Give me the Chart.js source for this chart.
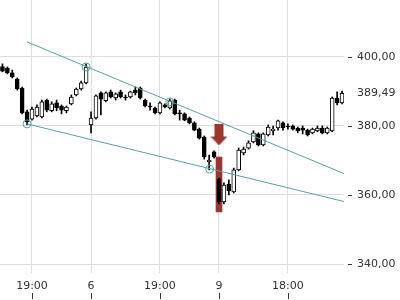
<!DOCTYPE html>
<html><head><meta charset="utf-8">
<script src="https://cdn.jsdelivr.net/npm/chart.js@4"></script>
<style>html,body{margin:0;padding:0;background:#fff}canvas{display:block}</style>
</head><body>
<canvas id="c" width="400" height="300"></canvas>
<script>
// ---- data (candle index 0..69) ----
const opens = [397.2,396.8,395.4,393.6,391.0,384.1,382.0,382.9,382.6,387.5, 384.4,386.7,385.8,384.4,386.4,389.0,390.7,392.5,380.3,382.3, 389.6,387.3,389.9,388.1,389.9,388.4,388.4,390.4,391.0,387.5, 385.8,385.2,383.8,386.1,385.2,387.5,383.8,383.5,382.3,380.9, 379.1,376.8,369.6,372.5,364.6,358.0,363.2,360.9,367.3,372.2, 373.6,375.4,377.7,374.5,377.4,378.6,379.4,380.9,380.0,380.0, 379.4,379.4,378.8,378.0,378.6,379.4,378.0,378.6,388.1,386.7];
const highs = [398.0,397.1,396.2,393.9,391.3,384.6,385.5,386.1,387.5,387.8, 387.0,387.5,386.1,385.8,389.0,391.0,393.0,398.0,384.1,389.0, 389.9,389.9,390.4,389.6,390.4,389.0,390.1,391.3,391.3,387.8, 386.7,385.5,387.0,386.4,387.8,387.8,384.6,383.8,382.6,381.2, 379.4,377.1,371.6,372.8,364.9,363.5,364.4,367.8,373.6,373.9, 375.7,378.6,378.0,378.0,380.3,380.0,381.7,381.2,380.6,380.3, 379.7,380.0,379.1,379.4,380.0,380.0,379.7,388.4,389.9,390.1];
const lows = [395.7,395.1,393.9,390.4,383.5,380.3,381.7,382.6,382.3,384.1, 384.1,384.4,383.5,383.8,386.1,388.7,390.4,392.2,378.0,382.0, 383.2,387.0,388.1,387.5,388.1,387.5,388.1,389.0,387.8,385.5, 384.6,383.5,383.5,385.2,384.9,383.2,381.7,381.5,380.6,378.6, 376.2,370.4,367.3,370.7,357.4,357.4,360.0,360.6,367.0,371.6, 373.3,375.1,374.2,374.2,377.1,377.4,378.8,378.8,379.1,378.8, 378.0,377.7,377.1,377.7,378.3,377.7,377.7,378.3,386.1,386.4];
const closes = [395.9,395.4,394.2,390.7,383.8,381.2,384.9,385.5,387.0,384.6, 386.4,385.2,384.6,385.5,388.4,390.7,392.5,397.1,382.3,388.7, 387.8,389.6,388.4,389.3,388.4,388.1,389.9,389.6,388.1,385.8, 385.5,383.8,386.7,385.5,387.3,383.5,383.5,381.7,380.9,378.8, 376.5,371.0,370.1,371.0,358.0,362.9,361.2,367.3,373.0,373.3, 375.1,378.0,374.5,377.7,379.7,379.1,381.5,379.4,379.7,379.1, 378.6,378.8,377.4,379.1,379.4,378.0,379.4,388.1,386.7,389.49];

const xTickIndex = [6, 18, 32, 44, 58];
const xTickLabels = ['19:00', '6', '19:00', '9', '18:00'];
const yTickValues = [340, 360, 380, 389.49, 400];
const lastPrice = 389.49;

// trend lines: [x, y] endpoints
const upperTrendX = [5, 69.4];
const upperTrendY = [404.35, 366.2];
const lowerTrendX = [5, 69.4];
const lowerTrendY = [380.6, 358.1];

// touch points
const touchX = [5, 17, 34, 42.1];
const touchY = [380.6, 397.1, 387.0, 367.5];

// signal candle
const signalIndex = 44;
const signalRange = [355.1, 371.0];
const arrowValue = 377.4;

// ---- build ----
const TEAL = '#5a9fa3';
const RED = '#993833';
const idx = opens.map((_, i) => i);
const bodyData = idx.map(i => ({x: i, y: [opens[i], closes[i]]}));
const wickData = idx.map(i => ({x: i, y: [lows[i], highs[i]]}));
const bodyColors = idx.map(i => closes[i] >= opens[i] ? '#ffffff' : '#000000');

const arrow = document.createElement('canvas');
arrow.width = 17; arrow.height = 21;
(function(){
  const g = arrow.getContext('2d');
  g.fillStyle = RED;
  g.beginPath();
  g.moveTo(4, 0); g.lineTo(13, 0); g.lineTo(13, 12); g.lineTo(17, 12);
  g.lineTo(8.5, 21); g.lineTo(0, 12); g.lineTo(4, 12); g.closePath();
  g.fill();
})();

const tickMarks = {
  id: 'tickMarks',
  afterDraw(chart) {
    const c = chart.ctx, xs = chart.scales.x, ys = chart.scales.y, a = chart.chartArea;
    c.save();
    c.strokeStyle = '#333';
    c.lineWidth = 1;
    c.beginPath();
    xTickIndex.forEach(v => {
      const px = Math.round(xs.getPixelForValue(v)) + 0.5;
      c.moveTo(px, a.bottom + 20); c.lineTo(px, a.bottom + 26);
    });
    yTickValues.forEach(v => {
      if (v === lastPrice) return;
      const py = Math.round(ys.getPixelForValue(v)) + 0.5;
      c.moveTo(a.right + 4, py); c.lineTo(a.right + 8, py);
    });
    c.stroke();
    c.restore();
  }
};

Chart.defaults.font.family = 'DejaVu Sans';
Chart.defaults.font.size = 11;
Chart.defaults.color = '#333';

new Chart(document.getElementById('c'), {
  type: 'bar',
  data: {
    datasets: [
      { type: 'scatter', data: [{x: signalIndex, y: arrowValue}], pointStyle: arrow, pointRadius: 10, order: 0 },
      { type: 'scatter', data: touchX.map((x, i) => ({x, y: touchY[i]})), pointStyle: 'circle', pointRadius: 4,
        backgroundColor: 'rgba(0,0,0,0)', borderColor: TEAL, borderWidth: 1, order: 1 },
      { type: 'line', data: upperTrendX.map((x, i) => ({x, y: upperTrendY[i]})), borderColor: TEAL, borderWidth: 1,
        pointRadius: 0, fill: false, order: 2 },
      { type: 'line', data: lowerTrendX.map((x, i) => ({x, y: lowerTrendY[i]})), borderColor: TEAL, borderWidth: 1,
        pointRadius: 0, fill: false, order: 2 },
      { type: 'bar', data: bodyData, grouped: false, barThickness: 4, borderWidth: 1, borderColor: '#000',
        backgroundColor: bodyColors, borderSkipped: false, minBarLength: 1, order: 3 },
      { type: 'bar', data: wickData, grouped: false, barThickness: 1, backgroundColor: '#000', borderWidth: 0, order: 4 },
      { type: 'bar', data: [{x: signalIndex, y: signalRange}], grouped: false, barThickness: 6,
        backgroundColor: RED, borderWidth: 0, order: 5 }
    ]
  },
  options: {
    responsive: false,
    animation: false,
    layout: { padding: 0, autoPadding: false },
    plugins: { legend: { display: false }, tooltip: { enabled: false } },
    scales: {
      x: {
        type: 'linear', min: -0.5, max: 69.4, offset: false,
        afterBuildTicks: s => { s.ticks = xTickIndex.map(v => ({value: v})); },
        afterFit: s => { s.height = 27; s.paddingLeft = 0; s.paddingRight = 0; },
        grid: { color: '#dddddd', drawTicks: false, offset: false },
        border: { display: false },
        ticks: { autoSkip: false, maxRotation: 0, padding: 7, color: '#333',
          callback: v => xTickLabels[xTickIndex.indexOf(v)] }
      },
      y: {
        type: 'linear', position: 'right', min: 337.4, max: 416.5,
        afterBuildTicks: s => { s.ticks = yTickValues.map(v => ({value: v})); },
        afterFit: s => { s.width = 56; s.paddingTop = 0; s.paddingBottom = 0; },
        grid: { color: c => (c.tick && c.tick.value === lastPrice) ? 'rgba(0,0,0,0)' : '#dddddd', drawTicks: false },
        border: { display: false },
        ticks: { autoSkip: false, padding: 13, color: '#333',
          callback: v => Number(v).toFixed(2).replace('.', ',') }
      }
    }
  },
  plugins: [tickMarks]
});
</script>
</body></html>
